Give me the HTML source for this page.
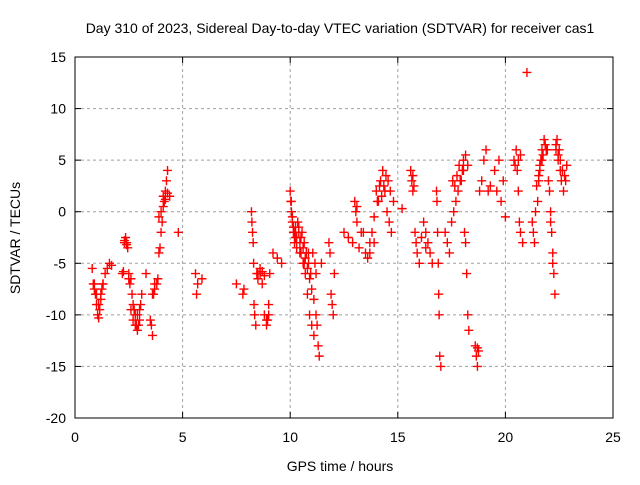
<!DOCTYPE html>
<html><head><meta charset="utf-8"><style>
body{margin:0;background:#fff}
svg text{font-family:"Liberation Sans",sans-serif;font-size:14px;fill:#000}
</style></head><body>
<svg id="c" width="640" height="480">
<g id="grid"></g>
<g id="axes"></g>
<g id="pts"></g>
<text x="340" y="33" text-anchor="middle">Day 310 of 2023, Sidereal Day-to-day VTEC variation (SDTVAR) for receiver cas1</text>
<text x="340" y="471" text-anchor="middle">GPS time / hours</text>
<text x="20" y="238" text-anchor="middle" transform="rotate(-90 20 238)">SDTVAR / TECUs</text>
</svg>
<script>
const xTicks=[0,5,10,15,20,25];
const yTicks=[15,10,5,0,-5,-10,-15,-20];
const times=[
0.8,0.85,0.9,0.95,1.0,1.05,1.1,1.15,1.2,1.25,
1.3,1.4,1.5,1.6,1.7,0.9,1.0,1.1,1.2,1.3,
2.2,2.25,2.3,2.35,2.4,2.45,2.5,2.55,2.6,2.65,
2.7,2.75,2.8,2.85,2.9,2.95,3.0,3.05,3.1,3.3,
3.5,3.55,3.6,3.65,3.7,3.8,3.85,3.9,3.95,4.0,
4.05,4.1,4.15,4.2,4.25,4.3,4.4,4.8,5.6,5.7,
5.65,5.9,2.3,2.4,2.5,2.6,2.7,2.8,2.9,3.0,
3.6,3.7,3.9,4.0,4.1,4.2,4.3,7.5,7.8,7.85,
8.2,8.22,8.25,8.28,8.3,8.32,8.35,8.4,8.45,8.5,
8.6,8.7,8.8,8.9,8.95,9.0,9.05,9.2,9.4,9.6,
8.5,8.6,8.7,8.8,8.9,9.0,10.0,10.03,10.06,10.1,
10.15,10.2,10.25,10.3,10.35,10.4,10.45,10.5,10.55,10.6,
10.65,10.7,10.75,10.8,10.85,10.9,10.95,11.0,11.05,11.1,
11.15,11.2,11.25,11.3,11.35,11.45,11.8,11.85,11.9,11.95,
12.0,12.05,10.05,10.1,10.15,10.2,10.3,10.4,10.5,10.6,
10.7,10.8,10.9,11.0,11.1,11.2,10.25,10.45,10.65,10.85,
12.5,12.7,12.9,13.0,13.05,13.1,13.2,13.3,13.5,13.6,
13.7,13.8,13.9,14.0,14.1,14.2,14.3,14.4,14.5,14.6,
14.7,14.8,15.2,15.6,15.65,15.7,15.8,15.85,15.9,16.0,
16.2,16.3,16.4,16.5,16.6,13.1,13.4,13.7,13.9,14.05,
14.15,14.25,14.35,14.45,14.55,14.65,15.7,15.75,16.1,16.3,
16.8,16.82,16.85,16.88,16.9,16.92,16.95,17.0,17.2,17.3,
17.4,17.5,17.6,17.7,17.8,17.9,18.0,18.05,18.1,18.15,
18.2,18.25,18.3,18.6,18.65,18.7,18.8,18.9,19.0,19.1,
19.2,19.3,19.5,19.7,19.9,17.55,17.65,17.75,17.85,17.95,
18.05,18.15,18.25,18.7,18.75,19.6,19.8,20.0,20.4,20.5,
20.55,20.6,20.65,20.7,20.8,21.0,21.3,21.35,21.4,21.5,
21.55,21.6,21.65,21.7,21.8,21.9,22.0,22.05,22.1,22.15,
22.2,22.25,22.3,22.35,22.4,22.45,22.5,22.55,22.6,22.7,
22.8,21.45,21.55,21.6,21.7,21.75,21.85,21.95,22.1,22.35,
22.45,22.55,22.65,22.75,22.85,20.6,20.7,20.45,21.25,22.2];
const values=[
-5.5,-7,-7.5,-8,-9,-10,-10.3,-9.5,-8,-7.5,
-7,-6,-5.5,-5,-5.2,-7,-8,-9,-8.5,-7,
-6,-5.8,-3,-2.5,-3,-3.5,-6,-7,-6.5,-8,
-9,-9.5,-10,-11,-11.5,-11,-10.5,-9,-8,-6,
-10.5,-11,-12,-8,-7.5,-7,-6.5,-4,-3.5,-2,
-1,0.5,1,2,3,4,1.5,-2,-6,-7,
-8,-6.5,-2.8,-3.2,-6.5,-9.5,-10.5,-11,-10,-9.5,
-8,-7,-0.5,0,1.5,1.2,1.8,-7,-8,-7.5,
0,-1,-2,-3,-5,-9,-10,-11,-6,-6.5,
-5.5,-7,-10,-11,-10.5,-9,-6,-4,-4.5,-5,
-6,-6,-5.8,-6.2,-10.5,-10,2,1,0,-1,
-2,-3,-1.5,-2.5,-1,-2,-3,-4,-2,-5,
-3,-6,-4,-8,-5,-10,-6,-11,-4,-12,
-5,-6,-11,-13,-14,-5,-3,-4,-8,-9,
-10,-6,1,-0.5,-1.5,-2,-3.5,-1.5,-2.5,-3.5,
-4.5,-5.5,-6.5,-7.5,-8.5,-10,-2.5,-4,-5,-4,
-2,-2.5,-3,1,0,-1,-3.5,-2,-4,-4.5,
-3,-2,-0.5,2,1,3,4,2,0,-1,
-2,1,0.3,4,3,2,-2,-3,-4,-5,
-1,-2,-3,-4,-5,0.5,-2,-4,-3,1,
2.5,1.5,2.5,3.5,3,2,3.5,2.5,-2.5,-3.5,
2,1,-2,-5,-8,-10,-14,-15,-2,-3,
-4,-1,0,1,2,3,4,5,-2,-3,
-6,-10,-11.5,-13,-14,-15,2,3,5,6,
2,2.5,4,5,3,3,2.5,3.5,4.5,3,
4,5.5,4.5,-13.2,-13.5,2,1,-0.5,5,6,
4,2,-1,-2,-3,13.5,-2,-3,0,1,
3,4,5,6,7,6,3,2,-1,-2,
-5,-6,-8,6,7,5,6,4,3,2,
3,2.5,3.5,4.5,5,5.5,6.5,6,0,6.5,
5.5,5,4,3.5,4.5,5,5.5,4.5,-1,-4];
const NS='http://www.w3.org/2000/svg';
const L=75,R=613,T=57,B=418;
const xs=t=>L+t*(R-L)/25;
const ys=v=>T+(15-v)*(B-T)/35;
function mk(tag,a,p){const e=document.createElementNS(NS,tag);for(const k in a)e.setAttribute(k,a[k]);p.appendChild(e);return e;}
const grid=document.getElementById('grid'),axes=document.getElementById('axes'),pts=document.getElementById('pts');
xTicks.forEach(t=>{
 const x=xs(t);
 if(t>0&&t<25){const g=mk('line',{x1:x,x2:x,y1:T,y2:B,stroke:'#a0a0a0','stroke-dasharray':'3,3'},grid);
 
 }
 mk('line',{x1:x,x2:x,y1:B,y2:B-6,stroke:'#000'},axes);
 mk('line',{x1:x,x2:x,y1:T,y2:T+6,stroke:'#000'},axes);
 const tx=mk('text',{x:x,y:B+24,'text-anchor':'middle'},axes);tx.textContent=t;
 
 
});
yTicks.forEach(v=>{
 const y=ys(v);
 if(v<15&&v>-20){const g=mk('line',{x1:L,x2:R,y1:y,y2:y,stroke:'#a0a0a0','stroke-dasharray':'3,3'},grid);
 
 }
 mk('line',{x1:L,x2:L+6,y1:y,y2:y,stroke:'#000'},axes);
 mk('line',{x1:R,x2:R-6,y1:y,y2:y,stroke:'#000'},axes);
 const tx=mk('text',{x:L-9,y:y+5,'text-anchor':'end'},axes);tx.textContent=v;
 
 
});
mk('rect',{x:L,y:T,width:R-L,height:B-T,fill:'none',stroke:'#000'},axes);
times.forEach((t,i)=>{
 const x=xs(t),y=ys(values[i]);
 const p=mk('path',{d:`M${x-4.5} ${y}h9M${x} ${y-4.5}v9`,stroke:'#f00','stroke-width':1.4},pts);
 
 
});
</script>
</body></html>
